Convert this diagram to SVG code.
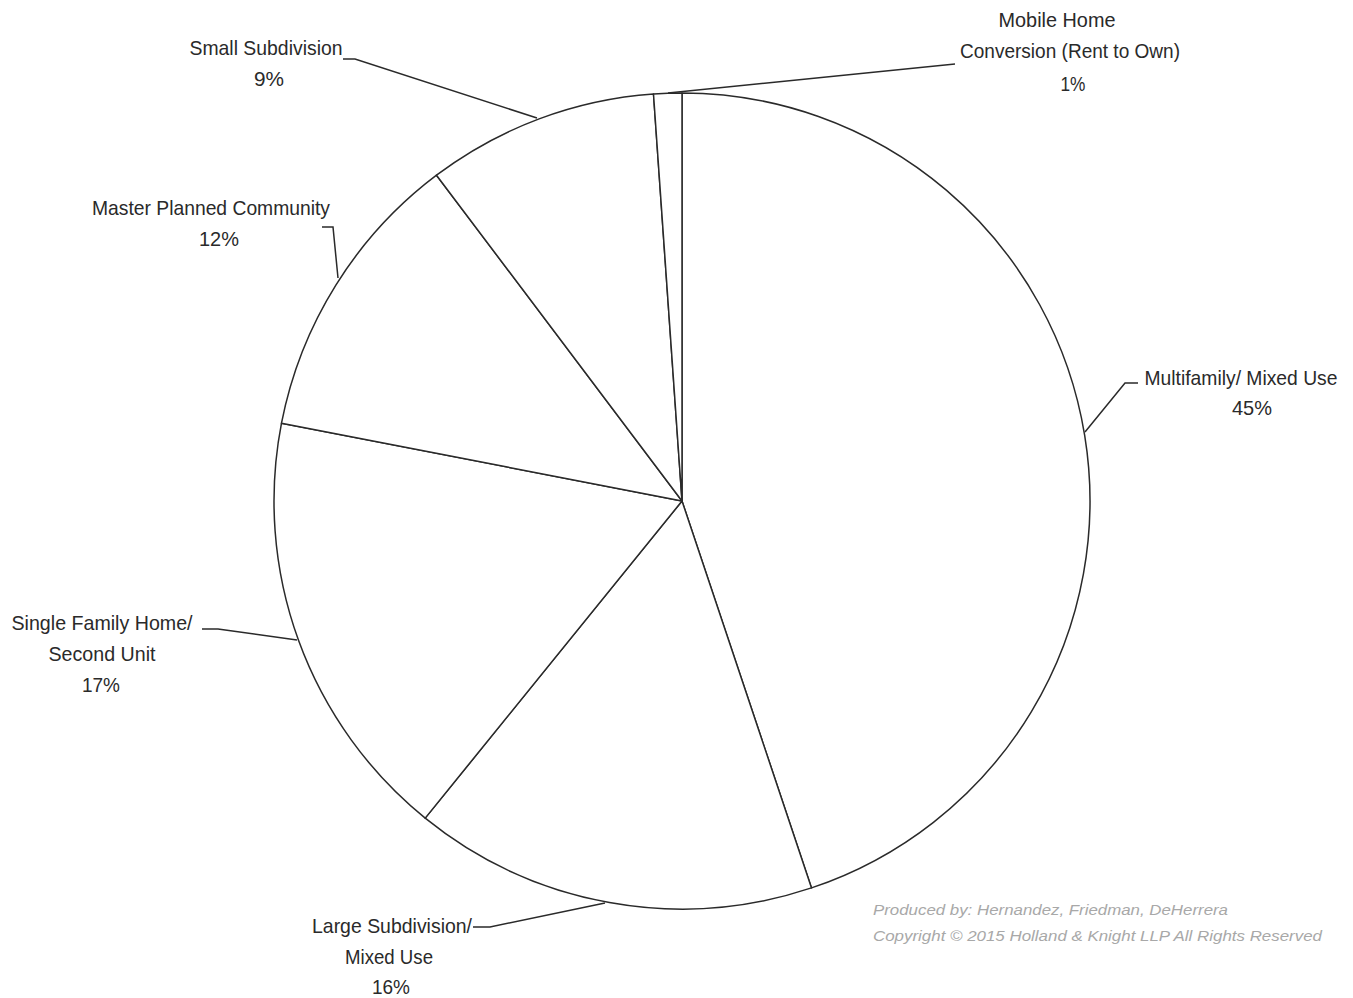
<svg xmlns="http://www.w3.org/2000/svg" width="1353" height="998" viewBox="0 0 1353 998">
<style>
.s{fill:#fff;stroke:#2a2a2a;stroke-width:1.5;stroke-linejoin:round}
.l{fill:none;stroke:#2a2a2a;stroke-width:1.5}
.t{font-family:'Liberation Sans Narrow','Liberation Sans',Arial,sans-serif;font-size:21px;fill:#2a2a2a;text-anchor:middle}
.c{font-family:'Liberation Sans','DejaVu Sans',sans-serif;font-size:15px;font-style:italic;fill:#a8a8a8}
</style>
<rect width="1353" height="998" fill="#fff"/>
<g id="slice-multifamily">
<path class="s" d="M682,501 L682,93 A408,408 0 0 1 811.5,887.9 Z"/>
<text class="t" x="1241" y="385" textLength="193" lengthAdjust="spacingAndGlyphs">Multifamily/ Mixed Use</text>
<text class="t" x="1252" y="415" textLength="40" lengthAdjust="spacingAndGlyphs">45%</text>
</g>
<g id="slice-large-subdivision">
<path class="s" d="M682,501 L811.5,887.9 A408,408 0 0 1 425.2,818.1 Z"/>
<text class="t" x="392" y="933" textLength="160" lengthAdjust="spacingAndGlyphs">Large Subdivision/</text>
<text class="t" x="389" y="964" textLength="88" lengthAdjust="spacingAndGlyphs">Mixed Use</text>
<text class="t" x="391" y="994" textLength="38" lengthAdjust="spacingAndGlyphs">16%</text>
</g>
<g id="slice-single-family">
<path class="s" d="M682,501 L425.2,818.1 A408,408 0 0 1 281.5,423.2 Z"/>
<text class="t" x="102" y="630" textLength="181" lengthAdjust="spacingAndGlyphs">Single Family Home/</text>
<text class="t" x="102" y="661" textLength="107" lengthAdjust="spacingAndGlyphs">Second Unit</text>
<text class="t" x="101" y="692" textLength="38" lengthAdjust="spacingAndGlyphs">17%</text>
</g>
<g id="slice-master-planned">
<path class="s" d="M682,501 L281.5,423.2 A408,408 0 0 1 436.5,175.2 Z"/>
<text class="t" x="211" y="215" textLength="238" lengthAdjust="spacingAndGlyphs">Master Planned Community</text>
<text class="t" x="219" y="246" textLength="40" lengthAdjust="spacingAndGlyphs">12%</text>
</g>
<g id="slice-small-subdivision">
<path class="s" d="M682,501 L436.5,175.2 A408,408 0 0 1 653.5,94 Z"/>
<text class="t" x="266" y="55" textLength="153" lengthAdjust="spacingAndGlyphs">Small Subdivision</text>
<text class="t" x="269" y="86" textLength="30" lengthAdjust="spacingAndGlyphs">9%</text>
</g>
<g id="slice-mobile-home">
<path class="s" d="M682,501 L653.5,94 A408,408 0 0 1 682,93 Z"/>
<text class="t" x="1057" y="27" textLength="117" lengthAdjust="spacingAndGlyphs">Mobile Home</text>
<text class="t" x="1070" y="58" textLength="220" lengthAdjust="spacingAndGlyphs">Conversion (Rent to Own)</text>
<text class="t" x="1073" y="91" textLength="25" lengthAdjust="spacingAndGlyphs">1%</text>
</g>
<g id="connectors">
<polyline class="l" points="1138,383 1125,383 1085,432"/>
<polyline class="l" points="473,927 490,927 605,903"/>
<polyline class="l" points="202,629 218,629 297,640"/>
<polyline class="l" points="322,227 333,227 338,278"/>
<polyline class="l" points="343,59 355,59 537,118"/>
<polyline class="l" points="955,64 668,93"/>
</g>
<g id="credits">
<text class="c" x="873" y="915" textLength="355" lengthAdjust="spacingAndGlyphs">Produced by: Hernandez, Friedman, DeHerrera</text>
<text class="c" x="873" y="941" textLength="449" lengthAdjust="spacingAndGlyphs">Copyright © 2015 Holland &amp; Knight LLP All Rights Reserved</text>
</g>
</svg>
